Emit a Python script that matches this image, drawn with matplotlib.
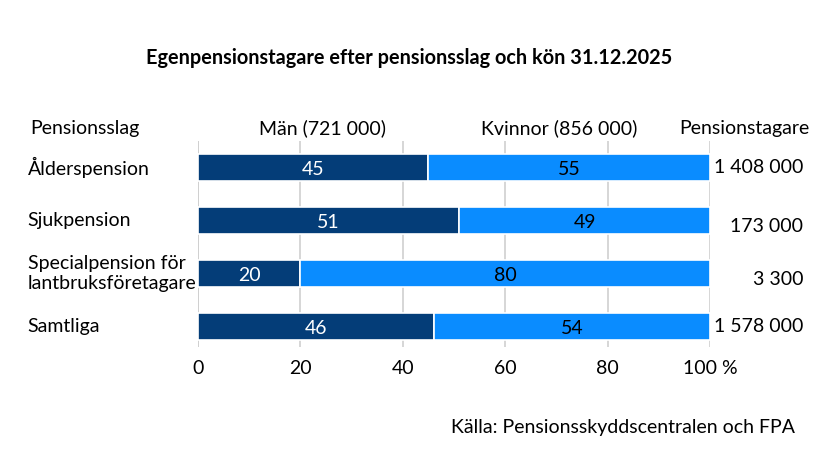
import matplotlib
matplotlib.use("Agg")
import matplotlib.pyplot as plt
from matplotlib.transforms import blended_transform_factory

# andelar i procent per pensionsslag
categories = ["Ålderspension", "Sjukpension", "Specialpension för\nlantbruksföretagare", "Samtliga"]
men = [45, 51, 20, 46]
women = [55, 49, 80, 54]
totals = ["1 408 000", "173 000", "3 300", "1 578 000"]
xticks = [0, 20, 40, 60, 80, 100]
xticklabels = ["0", "20", "40", "60", "80", "100 %"]

DARK = "#043d78"
LIGHT = "#0a8cff"

plt.rcParams["font.family"] = ["Lato", "DejaVu Sans"]

fig = plt.figure(figsize=(8.18, 4.61), dpi=100)
ax = fig.add_axes([0.242, 0.247, 0.626, 0.447])
figy = blended_transform_factory(fig.transFigure, ax.transData)

y = list(range(len(categories)))
ax.barh(y, men, height=0.51, color=DARK, edgecolor="white", linewidth=1.2, zorder=3)
ax.barh(y, women, left=men, height=0.51, color=LIGHT, edgecolor="white", linewidth=1.2, zorder=3)

for i in y:
    ax.text(men[i] / 2, i + 0.03, str(men[i]), color="white", ha="center", va="center", fontsize=14, zorder=4)
    ax.text(men[i] + women[i] / 2, i + 0.03, str(women[i]), color="black", ha="center", va="center", fontsize=14, zorder=4)
    ax.text(0.982, i + (0.1 if i in (1, 2) else 0), totals[i], transform=figy,
            ha="right", va="center", fontsize=14)
    ax.text(0.034, i, categories[i], transform=figy,
            ha="left", va="center", fontsize=14, linespacing=1.2)

ax.set_xlim(0, 100)
ax.set_ylim(3.38, -0.5)
ax.set_xticks(xticks)
ax.set_xticklabels(xticklabels, fontsize=14)
ax.set_yticks([])
ax.tick_params(axis="x", length=0, pad=9)
ax.grid(axis="x", color="#cfcfcf", linestyle="-", linewidth=1.2, zorder=0)
ax.axvline(0, color="#cfcfcf", linestyle="-", linewidth=1.2, zorder=0)
for s in ax.spines.values():
    s.set_visible(False)

fig.text(0.5, 0.874, "Egenpensionstagare efter pensionsslag och kön 31.12.2025",
         ha="center", va="center", fontsize=14.3, fontweight="bold")
fig.text(0.037, 0.722, "Pensionsslag", ha="left", va="center", fontsize=14)
fig.text(0.394, 0.722, "Män (721 000)", ha="center", va="center", fontsize=14)
fig.text(0.684, 0.722, "Kvinnor (856 000)", ha="center", va="center", fontsize=14)
fig.text(0.99, 0.722, "Pensionstagare", ha="right", va="center", fontsize=14)
fig.text(0.972, 0.072, "Källa: Pensionsskyddscentralen och FPA", ha="right", va="center", fontsize=14)

fig.savefig("out.png", dpi=100, facecolor="white")
